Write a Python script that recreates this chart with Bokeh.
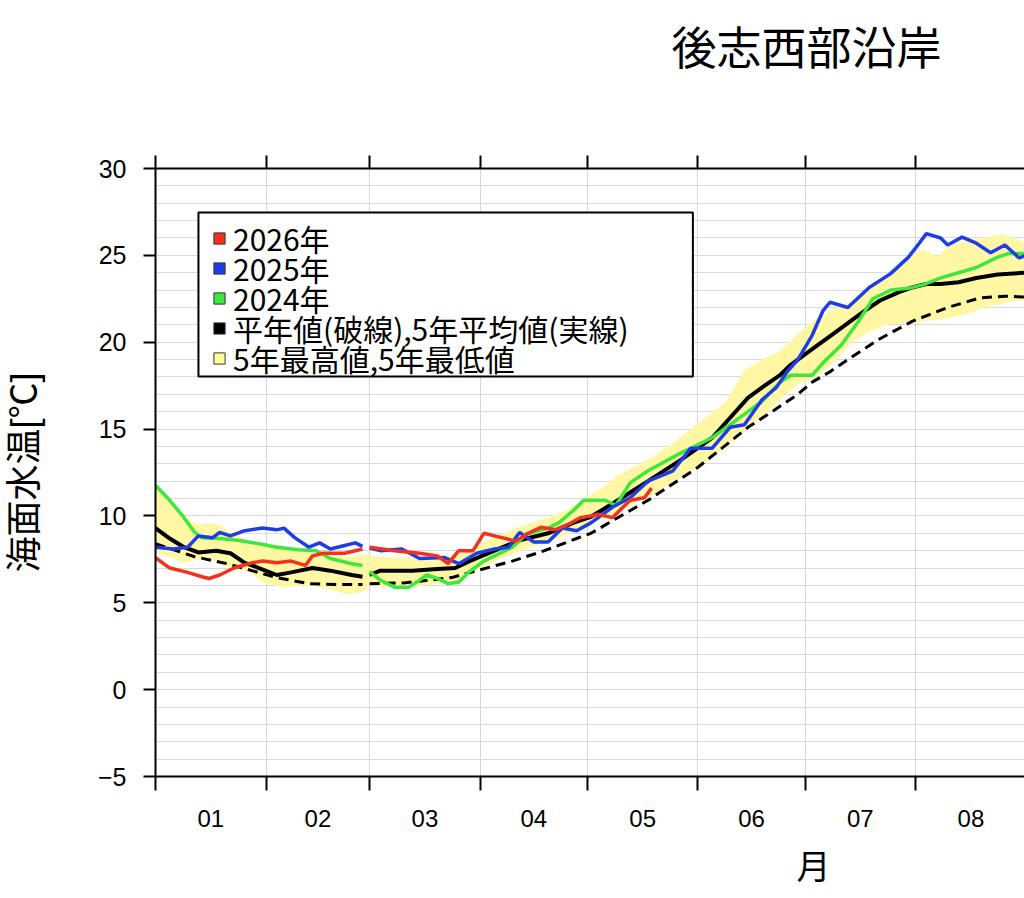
import numpy as np
from bokeh.plotting import figure
from bokeh.models import (FixedTicker, LinearAxis, Range1d, Legend,
                          LegendItem, ColumnDataSource, Title, BoxAnnotation)
from bokeh.embed import file_html
from bokeh.resources import INLINE

NAN = float("nan")

# ---- axis definitions (day-of-year on a 366-day axis, Jan 1 = 0) ----
month_bounds = [0, 31, 60, 91, 121, 152, 182, 213, 244]
month_labels = ["01", "02", "03", "04", "05", "06", "07", "08"]
y_ticks = [-5, 0, 5, 10, 15, 20, 25, 30]

# ---- 2026 ----
d2026 = [0, 4, 9, 13, 15, 18, 22, 27, 30, 34, 38, 42, 44, 47, 53, 58, 59,
         60, 67, 74, 79, 82, 85, 89, 92, 97, 101, 104, 108, 112, 116, 119,
         122, 124, 128, 133, 137, 139]
t2026 = [7.6, 7.0, 6.75, 6.5, 6.4, 6.6, 7.0, 7.3, 7.4, 7.3, 7.4, 7.15, 7.7,
         7.85, 7.85, 8.1, NAN,
         8.2, 8.0, 7.85, 7.7, 7.25, 8.0, 8.0, 9.0, 8.75, 8.55, 8.95, 9.35,
         9.2, 9.55, 9.9, 10.0, 10.1, 9.9, 10.9, 11.05, 11.6]

# ---- 2025 ----
d2025 = [0, 5, 9, 12, 16, 18, 21, 25, 30, 34, 36, 39, 43, 46, 49, 53, 56, 58,
         59,
         60, 63, 69, 74, 81, 85, 90, 95, 99, 102, 106, 110, 114, 118, 122,
         128, 133, 138, 145, 150, 156, 161, 165, 170, 174, 177, 180, 184,
         187, 189, 194, 200, 206, 211, 214, 216, 220, 222, 226, 230, 234,
         238, 242, 244]
t2025 = [8.2, 8.1, 8.2, 8.85, 8.75, 9.05, 8.85, 9.15, 9.3, 9.2, 9.3, 8.75,
         8.2, 8.45, 8.1, 8.3, 8.45, 8.25,
         NAN,
         8.15, 8.0, 8.1, 7.55, 7.6, 7.25, 7.85, 8.1, 8.2, 9.05, 8.5, 8.5,
         9.3, 9.15, 9.6, 10.5, 11.05, 12.0, 12.6, 13.9, 13.9, 15.1, 15.25,
         16.7, 17.4, 18.3, 19.0, 20.4, 21.8, 22.3, 22.0, 23.15, 23.95, 24.9,
         25.7, 26.25, 26.0, 25.6, 26.05, 25.7, 25.15, 25.6, 24.85, 25.0]

# ---- 2024 ----
d2024 = [0, 4, 8, 11, 13, 18, 23, 29, 34, 40, 45, 49, 55, 58, 59,
         60, 63, 67, 71, 74, 76, 79, 82, 85, 88, 92, 95, 100, 104, 110, 113,
         117, 120, 126, 129, 133, 138, 147, 156, 164, 170, 175, 178, 184,
         187, 192, 197, 201, 206, 211, 215, 220, 225, 230, 236, 239, 244]
t2024 = [11.75, 10.9, 9.9, 9.05, 8.75, 8.7, 8.6, 8.4, 8.2, 8.05, 8.0, 7.55,
         7.25, 7.15, NAN,
         6.8, 6.3, 5.9, 5.9, 6.3, 6.6, 6.4, 6.1, 6.2, 6.8, 7.4, 7.7, 8.2,
         8.95, 9.3, 9.6, 10.3, 10.9, 10.9, 10.6, 11.9, 12.6, 13.6, 14.5,
         15.7, 16.6, 17.7, 18.1, 18.1, 18.8, 19.8, 21.2, 22.5, 23.0, 23.1,
         23.3, 23.7, 24.0, 24.3, 24.9, 25.1, 25.1]

# ---- 5-year mean (solid black) ----
d_mean = [0, 4, 8, 12, 17, 21, 25, 29, 34, 38, 44, 49, 55, 58, 59,
          60, 63, 72, 79, 84, 88, 95, 102, 110, 117, 122, 128, 138, 147, 156,
          166, 170, 175, 178, 184, 190, 194, 198, 203, 208, 212, 216, 220,
          225, 230, 236, 244]
t_mean = [9.3, 8.7, 8.2, 7.9, 8.0, 7.85, 7.3, 7.0, 6.6, 6.75, 7.0, 6.85, 6.6,
          6.5, NAN,
          6.6, 6.85, 6.85, 6.95, 7.0, 7.4, 8.0, 8.6, 9.0, 9.6, 9.95, 10.7,
          12.0, 13.2, 14.5, 16.8, 17.4, 18.1, 18.7, 19.6, 20.5, 21.1, 21.7,
          22.4, 22.85, 23.15, 23.35, 23.35, 23.45, 23.7, 23.9, 24.0]

# ---- normal (dashed black) ----
d_norm = [0, 11, 20, 27, 34, 43, 51, 58, 59,
          60, 70, 83, 90, 100, 109, 118, 122, 138, 152, 166, 172, 180, 184,
          189, 194, 203, 212, 222, 231, 238, 244]
t_norm = [8.4, 7.65, 7.25, 6.85, 6.45, 6.1, 6.05, 6.05, NAN,
          6.1, 6.15, 6.45, 6.85, 7.4, 8.0, 8.7, 9.0, 10.9, 12.8, 15.1, 15.9,
          17.0, 17.7, 18.3, 19.0, 20.2, 21.2, 22.0, 22.55, 22.65, 22.6]

# ---- 5-year max / min band ----
d_band = [0, 4, 8, 12, 15, 18, 22, 26, 30, 35, 40, 45, 50, 54, 58, 59,
          60, 65, 70, 75, 80, 85, 90, 95, 100, 105, 110, 115, 120, 125, 130,
          135, 140, 145, 150, 155, 160, 165, 170, 175, 180, 185, 190, 195,
          200, 205, 210, 215, 219, 222, 227, 232, 237, 241, 244]
t_max = [11.7, 10.9, 9.9, 9.5, 9.6, 9.5, 8.9, 8.6, 8.4, 8.2, 8.1, 8.0, 7.8,
         7.6, 7.8, NAN,
         7.7, 7.6, 7.6, 7.6, 7.7, 7.8, 8.3, 8.8, 9.2, 9.6, 9.9, 10.3, 11.0,
         11.6, 12.4, 12.9, 13.5, 14.2, 15.0, 15.8, 16.6, 18.4, 19.0, 19.5,
         20.5, 21.3, 21.9, 22.4, 23.0, 23.8, 24.6, 25.4, 24.9, 25.5, 25.85,
         26.0, 26.25, 26.0, 25.7]
t_min = [7.9, 7.6, 7.3, 7.5, 7.6, 7.2, 7.0, 6.8, 6.2, 5.9, 6.0, 5.95, 5.7,
         5.5, 5.6, NAN,
         6.0, 5.9, 5.9, 6.0, 6.1, 6.3, 6.9, 7.4, 7.8, 8.2, 8.5, 8.9, 9.3,
         9.8, 10.3, 10.8, 11.3, 11.9, 12.6, 13.2, 14.0, 14.8, 15.7, 16.7,
         17.6, 18.0, 18.8, 20.0, 20.6, 21.0, 21.1, 21.2, 21.3, 21.4, 21.6,
         22.0, 22.2, 22.4, 22.4]

legend_labels = ["2026年", "2025年", "2024年",
                 "平年値(破線),5年平均値(実線)", "5年最高値,5年最低値"]

RED = "#f2321e"
BLUE = "#1f3de6"
GREEN = "#3de83d"
YELLOW = "#fff7a3"
CJK = "'Noto Sans CJK JP'"
MIX = "'Liberation Sans', 'Noto Sans CJK JP'"
LAT = "Liberation Sans"

# frame geometry (pixels)
FL, FT, FB = 154, 168, 776
X0, X1, Y0, Y1 = 0, 243.5, -5, 30
W, H = 1024, 898


def px_x(px):
    return X0 + (px - FL) * (X1 - X0) / (W - FL)


def px_y(py):
    return Y1 - (py - FT) * (Y1 - Y0) / (FB - FT)


p = figure(width=W, height=H, x_range=Range1d(X0, X1),
           y_range=Range1d(Y0, Y1), output_backend="svg",
           toolbar_location=None, min_border_left=FL, min_border_right=0,
           min_border_top=FT, min_border_bottom=H - FB)
p.outline_line_color = None
p.background_fill_color = "white"
p.border_fill_color = "white"

# title (placed where the full-year chart's centre is); the trailing empty
# line lifts the visible line towards the top of the page
p.title.text = "後志西部沿岸\n"
p.title.align = "left"
p.title.offset = 516
p.title.standoff = 0
p.title.text_line_height = 1.2
p.title.text_font = CJK
p.title.text_font_size = "45px"
p.title.text_font_style = "normal"
p.title.text_color = "black"

# grids
p.xgrid.ticker = FixedTicker(ticks=month_bounds)
p.xgrid.grid_line_color = "#d6d6d6"
p.xgrid.grid_line_width = 1
p.ygrid.ticker = FixedTicker(ticks=list(range(-5, 31)))
p.ygrid.grid_line_color = "#dadada"
p.ygrid.grid_line_width = 1

# bottom axis: labels at mid-month, ticks at month boundaries
mids = [(a + b) / 2 for a, b in zip(month_bounds[:-1], month_bounds[1:])]
xa = p.xaxis[0]
xa.ticker = FixedTicker(ticks=mids, minor_ticks=month_bounds)
xa.major_label_overrides = {m: lab for m, lab in zip(mids, month_labels)}
xa.major_tick_line_color = None
xa.major_tick_out = 0
xa.major_tick_in = 0
xa.minor_tick_out = 14
xa.minor_tick_in = 0
xa.minor_tick_line_color = "black"
xa.minor_tick_line_width = 2
xa.axis_line_width = 2
xa.axis_line_color = "black"
xa.major_label_standoff = 19
xa.major_label_text_font = LAT
xa.major_label_text_font_size = "24px"
xa.major_label_text_color = "black"

# x caption "月" as a below-title
p.add_layout(Title(text="月", align="left", offset=641, standoff=16,
                   text_font=CJK, text_font_size="34px",
                   text_font_style="normal", text_color="black"), "below")

# left axis
ya = p.yaxis[0]
ya.ticker = FixedTicker(ticks=y_ticks)
ya.major_tick_out = 12
ya.major_tick_in = 0
ya.major_tick_line_width = 2
ya.minor_tick_line_color = None
ya.axis_line_width = 2
ya.major_label_standoff = 17
ya.major_label_text_font = LAT
ya.major_label_text_font_size = "25px"
ya.major_label_text_color = "black"
ya.axis_label = "海面水温[℃]"
ya.axis_label_text_font = MIX
ya.axis_label_text_font_size = "36px"
ya.axis_label_text_font_style = "normal"
ya.axis_label_text_color = "black"
ya.axis_label_standoff = 50

# top axis (frame top with outward ticks, no labels)
ta = LinearAxis(ticker=FixedTicker(ticks=month_bounds),
                major_label_overrides={b: "" for b in month_bounds},
                major_label_text_font_size="0px", major_label_standoff=0,
                major_tick_out=13, major_tick_in=0, major_tick_line_width=2,
                minor_tick_line_color=None, axis_line_width=2)
p.add_layout(ta, "above")

# band
band_src = ColumnDataSource(dict(x=np.array(d_band, float),
                                  y1=np.array(t_min, float),
                                  y2=np.array(t_max, float)))
p.varea(x="x", y1="y1", y2="y2", source=band_src, fill_color=YELLOW,
        fill_alpha=1.0)

# lines
p.line(np.array(d_norm, float), np.array(t_norm, float), line_color="black",
       line_width=3, line_dash="10 6")
p.line(np.array(d_mean, float), np.array(t_mean, float), line_color="black",
       line_width=4)
p.line(np.array(d2024, float), np.array(t2024, float), line_color=GREEN,
       line_width=3.5)
p.line(np.array(d2025, float), np.array(t2025, float), line_color=BLUE,
       line_width=3.5)
p.line(np.array(d2026, float), np.array(t2026, float), line_color=RED,
       line_width=3.5)

# legend frame
p.add_layout(BoxAnnotation(left=px_x(197), right=px_x(692), top=px_y(212),
                           bottom=px_y(376), fill_color="white",
                           fill_alpha=1.0, line_color="black", line_width=2,
                           line_alpha=1.0))

# legend entries (square swatches; swatch renderers hold no visible point)
swatch_colors = [RED, BLUE, GREEN, "black", "#ffff99"]
ENTRY_H = 56
for i, (lab, col) in enumerate(zip(legend_labels, swatch_colors)):
    r = p.scatter(x=[NAN], y=[NAN], marker="square", fill_color=col,
                  line_color="#333333", line_width=1)
    centre = 238 + 30 * i
    lg = Legend(items=[LegendItem(label=lab, renderers=[r])],
                location=(204 - FL, FB - centre - ENTRY_H / 2),
                margin=0, padding=0, spacing=0,
                border_line_color=None, background_fill_alpha=0.0,
                glyph_width=28, glyph_height=ENTRY_H, label_height=30,
                label_standoff=0, label_text_font=CJK,
                label_text_font_size="30px", label_text_color="black")
    p.add_layout(lg)

open("out.html", "w").write(file_html(p, INLINE))
